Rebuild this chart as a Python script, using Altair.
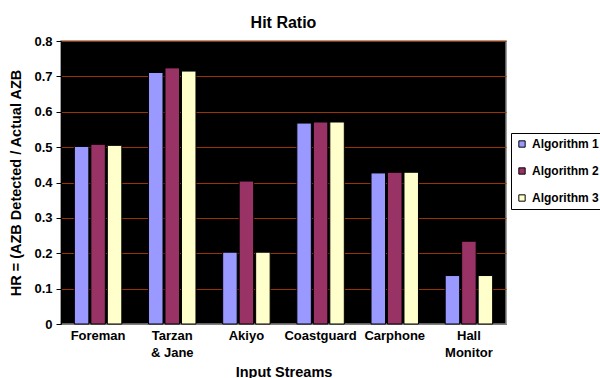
import altair as alt
import pandas as pd

streams = ["Foreman", "Tarzan\n& Jane", "Akiyo", "Coastguard", "Carphone", "Hall\nMonitor"]
algorithms = ["Algorithm 1", "Algorithm 2", "Algorithm 3"]
alg1 = [0.502, 0.711, 0.203, 0.568, 0.427, 0.137]
alg2 = [0.508, 0.724, 0.404, 0.571, 0.429, 0.234]
alg3 = [0.505, 0.715, 0.203, 0.571, 0.429, 0.137]
colors = ["#9999FF", "#993366", "#FFFFCC"]

rows = []
for alg, vals in zip(algorithms, [alg1, alg2, alg3]):
    for s, v in zip(streams, vals):
        rows.append({"stream": s, "algorithm": alg, "hr": v})
df = pd.DataFrame(rows)

FONT = "Liberation Sans"

chart = alt.Chart(df).mark_bar(stroke="black", strokeWidth=1).encode(
    x=alt.X("stream:N", sort=streams,
            scale=alt.Scale(paddingInner=0.36, paddingOuter=0.18),
            axis=alt.Axis(title="Input Streams", labelAngle=0, ticks=False,
                          labelExpr="split(datum.label, '\\n')",
                          labelFont=FONT, labelFontWeight="bold", labelFontSize=13,
                          labelColor="black", labelPadding=5, labelLineHeight=17,
                          titleFont=FONT, titleFontWeight="bold", titleFontSize=14.5,
                          titleColor="black", titlePadding=6,
                          domainColor="#808080", grid=False)),
    xOffset=alt.XOffset("algorithm:N", sort=algorithms,
                        scale=alt.Scale(paddingInner=0.12, paddingOuter=0)),
    y=alt.Y("hr:Q", scale=alt.Scale(domain=[0, 0.8], nice=False),
            axis=alt.Axis(title="HR = (AZB Detected / Actual AZB",
                          values=[0, 0.1, 0.2, 0.3, 0.4, 0.5, 0.6, 0.7, 0.8],
                          labelExpr="datum.value == 0 ? '0' : format(datum.value, '.1f')",
                          labelFont=FONT, labelFontWeight="bold", labelFontSize=13,
                          labelColor="black", labelPadding=4,
                          tickColor="black", tickSize=5,
                          titleFont=FONT, titleFontWeight="bold", titleFontSize=14.5,
                          titleColor="black", titlePadding=10,
                          domainColor="black",
                          grid=True, gridColor="#993300", gridWidth=1.2)),
    color=alt.Color("algorithm:N", sort=algorithms,
                    scale=alt.Scale(domain=algorithms, range=colors),
                    legend=alt.Legend(title=None, orient="none", legendX=450, legendY=92,
                                      symbolType="square", symbolSize=40,
                                      symbolStrokeColor="black", symbolStrokeWidth=1,
                                      labelFont=FONT, labelFontWeight="bold",
                                      labelFontSize=12, labelColor="black",
                                      labelOffset=4, rowPadding=15, padding=5,
                                      strokeColor="black", fillColor="white")),
).properties(
    width=445, height=283,
    background="white",
    title=alt.TitleParams("Hit Ratio", font=FONT, fontWeight="bold", fontSize=16,
                          color="black", anchor="middle", offset=4),
    autosize=alt.AutoSizeParams(type="none"),
    padding={"left": 61, "top": 41, "right": 94, "bottom": 54},
).configure_view(
    fill="black", stroke="#808080", strokeWidth=1.5
)

chart.save("out.html", embed_options={"renderer": "svg", "actions": False})
